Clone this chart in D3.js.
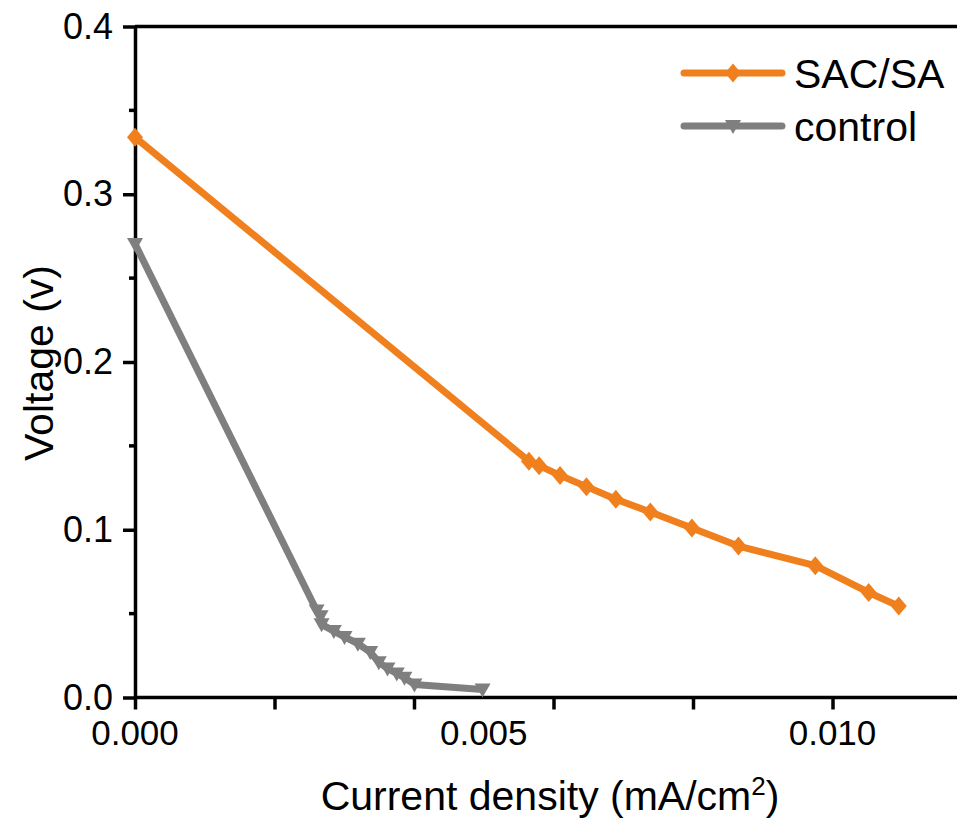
<!DOCTYPE html>
<html>
<head>
<meta charset="utf-8">
<script src="https://cdn.jsdelivr.net/npm/d3@7"></script>
<style>
  body { margin: 0; background: #fff; }
  svg { display: block; font-family: "Liberation Sans", Arial, sans-serif; }
</style>
</head>
<body>
<svg id="chart" width="957" height="827"></svg>
<script>
// values
var sacX = [0, 0.005648, 0.005794, 0.006094, 0.006472, 0.006894, 0.007388, 0.007984, 0.008652, 0.009753, 0.010519, 0.01095];
var sacY = [0.334, 0.1409, 0.1382, 0.1324, 0.1257, 0.1182, 0.1106, 0.1010, 0.0903, 0.0786, 0.0626, 0.0545];

var ctrlX = [0, 0.002604, 0.002661, 0.002675, 0.002851, 0.003004, 0.003195, 0.003372, 0.003495, 0.003620, 0.003753, 0.003863, 0.004006, 0.004983];
var ctrlY = [0.2704, 0.0519, 0.0485, 0.0436, 0.0396, 0.0361, 0.0321, 0.0271, 0.0210, 0.0173, 0.0143, 0.0118, 0.0078, 0.0048];

var xTicks = [0, 0.002, 0.004, 0.006, 0.008, 0.010];
var xLabels = [0, 0.005, 0.010];
var yMajor = [0, 0.1, 0.2, 0.3, 0.4];
var yMinor = [0.05, 0.15, 0.25, 0.35];

var seriesNames = ["SAC/SA", "control"];
var orange = "#f0801e", grey = "#7f7f7f";

var svg = d3.select("#chart");
var x = d3.scaleLinear().domain([0, 0.010]).range([135, 832.5]);
var y = d3.scaleLinear().domain([0, 0.4]).range([697.5, 26.5]);
var xRight = 957;

// frame: top line
svg.append("line").attr("x1", x(0)).attr("x2", xRight)
  .attr("y1", y(0.4)).attr("y2", y(0.4))
  .attr("stroke", "#000").attr("stroke-width", 3.5);

// x axis
var gx = svg.append("g").attr("transform", "translate(0," + y(0) + ")")
  .call(d3.axisBottom(x).tickValues(xTicks).tickFormat("").tickSize(12).tickSizeOuter(0));
gx.select(".domain").attr("d", "M" + x(0) + ",0H" + xRight);
gx.selectAll("path, line").attr("stroke", "#000").attr("stroke-width", 3.5);

svg.append("g").selectAll("text").data(xLabels).join("text")
  .attr("x", function (d) { return x(d); })
  .attr("y", 745)
  .attr("text-anchor", "middle")
  .attr("font-size", 35)
  .text(function (d) { return d3.format(".3f")(d); });

// y axis
var gy = svg.append("g").attr("transform", "translate(" + x(0) + ",0)")
  .call(d3.axisLeft(y).tickValues(yMajor).tickFormat(d3.format(".1f")).tickSize(12).tickPadding(10).tickSizeOuter(0));
gy.selectAll("path, line").attr("stroke", "#000").attr("stroke-width", 3.5);
gy.selectAll("text").attr("font-size", 36).attr("font-family", "Liberation Sans, Arial, sans-serif").attr("fill", "#000");

svg.append("g").attr("transform", "translate(" + x(0) + ",0)")
  .selectAll("line").data(yMinor).join("line")
  .attr("x1", -6).attr("x2", 0)
  .attr("y1", function (d) { return y(d); }).attr("y2", function (d) { return y(d); })
  .attr("stroke", "#000").attr("stroke-width", 3.5);

// axis titles
svg.append("text").attr("x", 550).attr("y", 810)
  .attr("text-anchor", "middle").attr("font-size", 41)
  .html('Current density (mA/cm<tspan dy="-15" font-size="26">2</tspan><tspan dy="15">)</tspan>');

svg.append("text").attr("transform", "translate(53,363) rotate(-90)")
  .attr("text-anchor", "middle").attr("font-size", 41)
  .text("Voltage (v)");

// series
var line = d3.line().x(function (d) { return x(d[0]); }).y(function (d) { return y(d[1]); });
var sac = d3.zip(sacX, sacY);
var ctrl = d3.zip(ctrlX, ctrlY);

var diamond = "M0,-9.5L8,0L0,9.5L-8,0Z";
var triangle = "M-8,-6L8,-6L0,8Z";

function drawSeries(data, color, shape) {
  svg.append("path").datum(data).attr("d", line)
    .attr("fill", "none").attr("stroke", color).attr("stroke-width", 7)
    .attr("stroke-linejoin", "round");
  svg.append("g").selectAll("path").data(data).join("path")
    .attr("transform", function (d) { return "translate(" + x(d[0]) + "," + y(d[1]) + ")"; })
    .attr("d", shape).attr("fill", color);
}
drawSeries(ctrl, grey, triangle);
drawSeries(sac, orange, diamond);

// legend
var legend = svg.append("g");
var legendRows = [
  { name: seriesNames[0], color: orange, shape: diamond, y: 73 },
  { name: seriesNames[1], color: grey, shape: triangle, y: 126 }
];
legendRows.forEach(function (r) {
  legend.append("line").attr("x1", 684).attr("x2", 782).attr("y1", r.y).attr("y2", r.y)
    .attr("stroke", r.color).attr("stroke-width", 7).attr("stroke-linecap", "round");
  legend.append("path").attr("transform", "translate(733," + r.y + ")").attr("d", r.shape).attr("fill", r.color);
  legend.append("text").attr("x", 794).attr("y", r.y + 15).attr("font-size", 41).text(r.name);
});
</script>
</body>
</html>
